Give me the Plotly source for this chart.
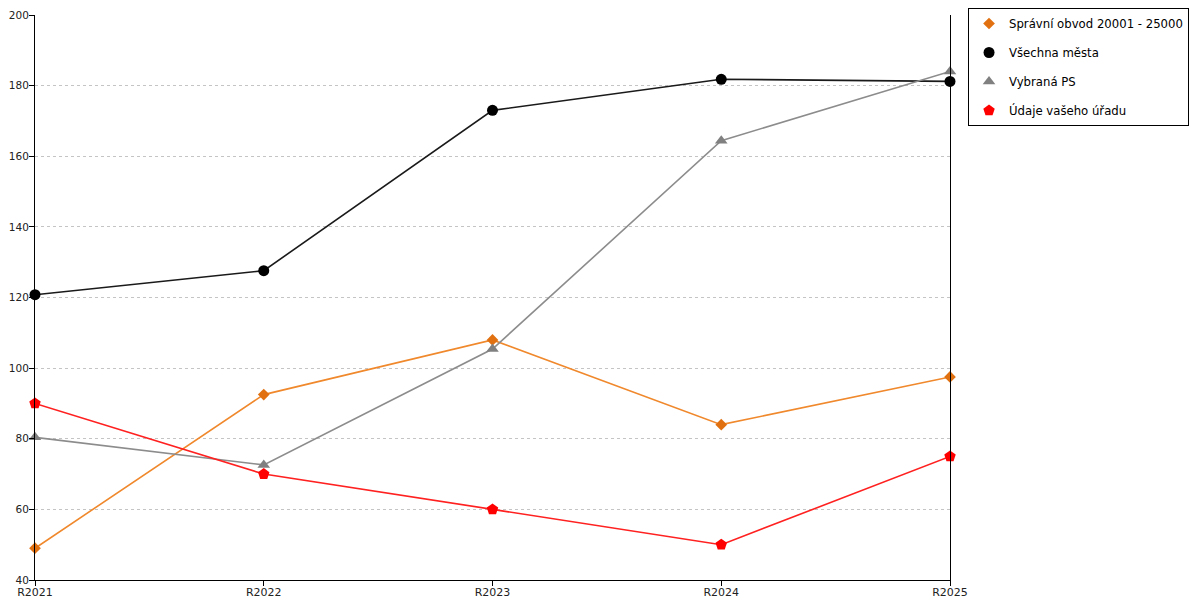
import plotly.graph_objects as go

# kategorie na ose x
roky = ["R2021", "R2022", "R2023", "R2024", "R2025"]

# hodnoty serii
spravni_obvod = [49, 92.5, 108, 84, 97.5]
vsechna_mesta = [120.8, 127.6, 173, 181.8, 181.2]
vybrana_ps = [80.4, 72.6, 105.4, 164.4, 184]
vas_urad = [90, 70, 60, 50, 75]

fig = go.Figure()

serie = [
    ("Správní obvod 20001 - 25000", spravni_obvod, "#F0882C", "#E07010", "diamond", 9),
    ("Všechna města", vsechna_mesta, "#1a1a1a", "#000000", "circle", 11),
    ("Vybraná PS", vybrana_ps, "#8c8c8c", "#808080", "triangle-up", 11),
    ("Údaje vašeho úřadu", vas_urad, "#FF2020", "#FF0000", "pentagon", 12),
]

# cary bez legendy
for nazev, hodnoty, barva_cary, barva_znacky, symbol, velikost in serie:
    fig.add_trace(go.Scatter(
        x=roky, y=hodnoty, mode="lines", showlegend=False, hoverinfo="skip",
        line=dict(color=barva_cary, width=1.6),
        cliponaxis=False,
    ))

# znacky s legendou (v legende jen symbol)
for i, (nazev, hodnoty, barva_cary, barva_znacky, symbol, velikost) in enumerate(serie):
    fig.add_trace(go.Scatter(
        x=roky, y=hodnoty, name=nazev, mode="markers",
        legendgroup=f"g{i}",
        marker=dict(color=barva_znacky, symbol=symbol, size=velikost),
        cliponaxis=False,
    ))

fig.update_xaxes(
    type="category", range=[0, 4],
    showline=True, linecolor="black", linewidth=1,
    ticks="outside", ticklen=5, tickcolor="black",
    minor=dict(ticks="outside", ticklen=5, tickcolor="black", showgrid=False),
    showgrid=False, zeroline=False, ticklabelstandoff=-3,
    tickfont=dict(size=11, color="#222"),
)
fig.update_yaxes(
    range=[40, 200], dtick=20,
    showline=True, linecolor="black", linewidth=1, mirror=True,
    ticks="outside", ticklen=5, tickcolor="black",
    showgrid=True, gridcolor="#c4c4c4", griddash="3px,3px", gridwidth=1,
    zeroline=False, ticklabeloverflow="allow", ticklabelstandoff=-2,
    tickfont=dict(size=10.5, color="#222"),
)

# stranka ma okraj 8 px, proto 1192x592
fig.update_layout(
    width=1192, height=592,
    margin=dict(l=27, r=250, t=7, b=20, autoexpand=False),
    plot_bgcolor="white", paper_bgcolor="white",
    font=dict(family="DejaVu Sans, Verdana, sans-serif", size=12, color="black"),
    legend=dict(
        x=1.0197, y=1.0124, xanchor="left", yanchor="top",
        bordercolor="black", borderwidth=1,
        tracegroupgap=10, font=dict(size=11.7),
        itemwidth=30,
    ),
)

fig.write_html("out.html")
